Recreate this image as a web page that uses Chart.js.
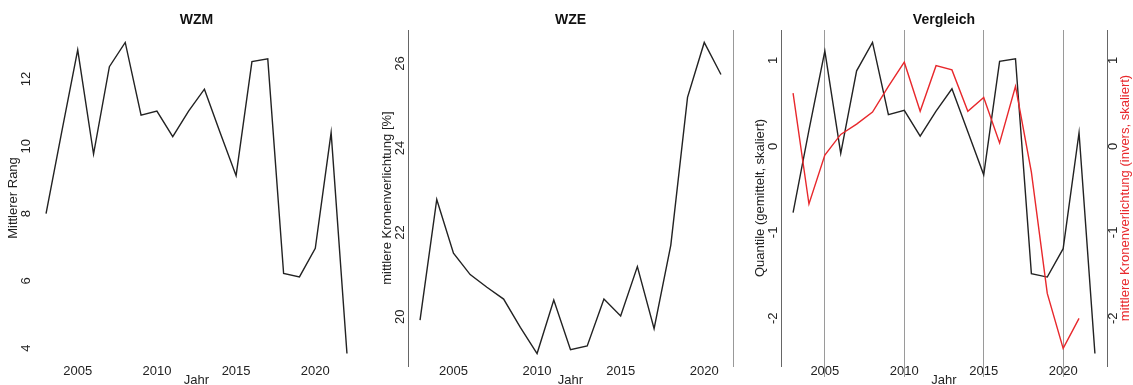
<!DOCTYPE html>
<html><head><meta charset="utf-8">
<script src="https://cdn.jsdelivr.net/npm/chart.js@4/dist/chart.umd.min.js"></script>
<style>
html,body{margin:0;padding:0;background:#fff;width:1133px;height:385px;overflow:hidden}
canvas{position:absolute;left:0;top:0}
</style></head>
<body>
<canvas id="c1" width="1133" height="385"></canvas>
<canvas id="c2" width="1133" height="385"></canvas>
<canvas id="c3" width="1133" height="385"></canvas>
<script>
// ---- data ----
const yearsWZM = [2003,2004,2005,2006,2007,2008,2009,2010,2011,2012,2013,2014,2015,2016,2017,2018,2019,2020,2021,2022];
const wzmRank = [8.0,10.45,12.87,9.77,12.37,13.09,10.93,11.05,10.29,11.05,11.70,10.4,9.13,12.52,12.6,6.22,6.12,6.97,10.41,3.84];
const yearsWZE = [2003,2004,2005,2006,2007,2008,2009,2010,2011,2012,2013,2014,2015,2016,2017,2018,2019,2020,2021];
const wzeDefoliation = [19.92,22.78,21.51,21.0,20.70,20.42,19.75,19.13,20.40,19.22,19.31,20.42,20.02,21.19,19.72,21.7,25.2,26.5,25.74];
const quantileScaled = [-0.77,0.19,1.11,-0.08,0.88,1.21,0.37,0.42,0.12,0.41,0.67,0.17,-0.33,0.99,1.02,-1.48,-1.52,-1.19,0.16,-2.41];
const defoliationInvScaled = [0.62,-0.67,-0.10,0.14,0.26,0.40,0.70,0.98,0.41,0.94,0.89,0.41,0.57,0.04,0.70,-0.30,-1.71,-2.35,-2.0];
const xTickYears = [2005,2010,2015,2020];
const wzmTicks = [4,6,8,10,12];
const wzeTicks = [20,22,24,26];
const cmpTicks = [-2,-1,0,1];

// ---- layout ----
const W = 1133, H = 385, TOP = 30, BOTTOM = 366, YW = 34;
const FONT = '"Liberation Sans", Arial, Helvetica, sans-serif';
Chart.defaults.font.family = FONT;
Chart.defaults.font.size = 13;
Chart.defaults.color = '#222';

function rRange(v){ const lo = Math.min(...v), hi = Math.max(...v), d = (hi - lo) * 0.04; return {min: lo - d, max: hi + d}; }
function pts(xs, ys){ return xs.map((x, i) => ({x: x, y: ys[i]})); }

const rotLabels = {
  id: 'rotLabels',
  afterDraw(chart, args, o) {
    const ctx = chart.ctx, ca = chart.chartArea;
    ctx.save();
    ctx.textAlign = 'center';
    ctx.textBaseline = 'middle';
    (o.items || []).forEach(it => {
      const sc = chart.scales[it.scale];
      const x = (it.side === 'right' ? ca.right : ca.left) + it.dx;
      ctx.font = '13px ' + FONT;
      ctx.fillStyle = it.color || '#222';
      it.values.forEach(v => {
        ctx.save();
        ctx.translate(x, sc.getPixelForValue(v));
        ctx.rotate(-Math.PI / 2);
        ctx.fillText(String(v), 0, 0);
        ctx.restore();
      });
    });
    (o.titles || []).forEach(t => {
      const x = (t.side === 'right' ? ca.right : ca.left) + t.dx;
      ctx.font = '13px ' + FONT;
      ctx.fillStyle = t.color || '#222';
      ctx.save();
      ctx.translate(x, (ca.top + ca.bottom) / 2);
      ctx.rotate(-Math.PI / 2);
      ctx.fillText(t.text, 0, 0);
      ctx.restore();
    });
    ctx.restore();
  }
};

function xScale(range, showGrid){
  return {
    type: 'linear', min: range.min, max: range.max,
    afterBuildTicks: s => { s.ticks = xTickYears.map(v => ({value: v})); },
    afterFit: s => { s.height = H - BOTTOM; },
    border: {display: false},
    grid: {display: showGrid, color: '#9a9a9a', lineWidth: 1, drawTicks: true, tickLength: 11, drawOnChartArea: true},
    ticks: {padding: -13.8, color: '#222', font: {size: 13}, autoSkip: false, maxRotation: 0, minRotation: 0, callback: v => String(v)},
    title: {display: true, text: 'Jahr', color: '#222', font: {size: 13}, padding: {top: 0, bottom: -2.8}}
  };
}
function yScale(range, title, border){
  return {
    type: 'linear', position: 'left', min: range.min, max: range.max,
    afterFit: s => { s.width = YW; },
    ticks: {display: false},
    grid: {display: false, drawTicks: false},
    border: {display: border, color: '#666', width: 1},
    title: {display: true, text: title, color: '#222', font: {size: 13}, padding: {top: YW - 21 - 7.8, bottom: 0}}
  };
}
function rightScale(range, width, color){
  return {
    type: 'linear', position: 'right', min: range.min, max: range.max,
    afterFit: s => { s.width = width; },
    ticks: {display: false},
    grid: {display: false, drawTicks: false},
    border: {display: true, color: color, width: 1}
  };
}
function titleOpt(text){
  return {display: true, text: text, fullSize: false, color: '#111',
          font: {size: 14, weight: 'bold'}, padding: {top: 11.6, bottom: 1.6}};
}
const base = {responsive: false, animation: false, devicePixelRatio: 1};

// Panel 1: WZM
new Chart(document.getElementById('c1'), {
  type: 'line',
  data: {datasets: [{data: pts(yearsWZM, wzmRank), borderColor: '#222', borderWidth: 1.4, pointRadius: 0, tension: 0}]},
  options: Object.assign({}, base, {
    layout: {padding: {left: 34 - YW, right: W - 359, top: 0, bottom: 0}},
    scales: {x: xScale(rRange(yearsWZM), false), y: yScale(rRange(wzmRank), 'Mittlerer Rang', false)},
    plugins: {legend: {display: false}, tooltip: {enabled: false}, title: titleOpt('WZM'),
      rotLabels: {items: [{scale: 'y', values: wzmTicks, side: 'left', dx: -8}]}}
  }),
  plugins: [rotLabels]
});

// Panel 2: WZE
const r2 = rRange(wzeDefoliation);
new Chart(document.getElementById('c2'), {
  type: 'line',
  data: {datasets: [{data: pts(yearsWZE, wzeDefoliation), borderColor: '#222', borderWidth: 1.4, pointRadius: 0, tension: 0}]},
  options: Object.assign({}, base, {
    layout: {padding: {left: 408 - YW, right: 0, top: 0, bottom: 0}},
    scales: {x: xScale(rRange(yearsWZE), false), y: yScale(r2, 'mittlere Kronenverlichtung [%]', true),
             y2: rightScale(r2, W - 733, '#999')},
    plugins: {legend: {display: false}, tooltip: {enabled: false}, title: titleOpt('WZE'),
      rotLabels: {items: [{scale: 'y', values: wzeTicks, side: 'left', dx: -8}]}}
  }),
  plugins: [rotLabels]
});

// Panel 3: Vergleich
const r3 = rRange(quantileScaled.concat(defoliationInvScaled));
new Chart(document.getElementById('c3'), {
  type: 'line',
  data: {datasets: [
    {data: pts(yearsWZE, defoliationInvScaled), borderColor: '#e8282c', borderWidth: 1.4, pointRadius: 0, tension: 0, yAxisID: 'y2'},
    {data: pts(yearsWZM, quantileScaled), borderColor: '#222', borderWidth: 1.4, pointRadius: 0, tension: 0, yAxisID: 'y'}
  ]},
  options: Object.assign({}, base, {
    layout: {padding: {left: 781 - YW, right: 0, top: 0, bottom: 0}},
    scales: {x: xScale(rRange(yearsWZM), true), y: yScale(r3, 'Quantile (gemittelt, skaliert)', true),
             y2: rightScale(r3, W - 1107, '#666')},
    plugins: {legend: {display: false}, tooltip: {enabled: false}, title: titleOpt('Vergleich'),
      rotLabels: {
        items: [{scale: 'y', values: cmpTicks, side: 'left', dx: -8},
                {scale: 'y2', values: cmpTicks, side: 'right', dx: 6}],
        titles: [{text: 'mittlere Kronenverlichtung (invers, skaliert)', side: 'right', dx: 18, color: '#e8282c'}]
      }}
  }),
  plugins: [rotLabels]
});
</script>
</body></html>
